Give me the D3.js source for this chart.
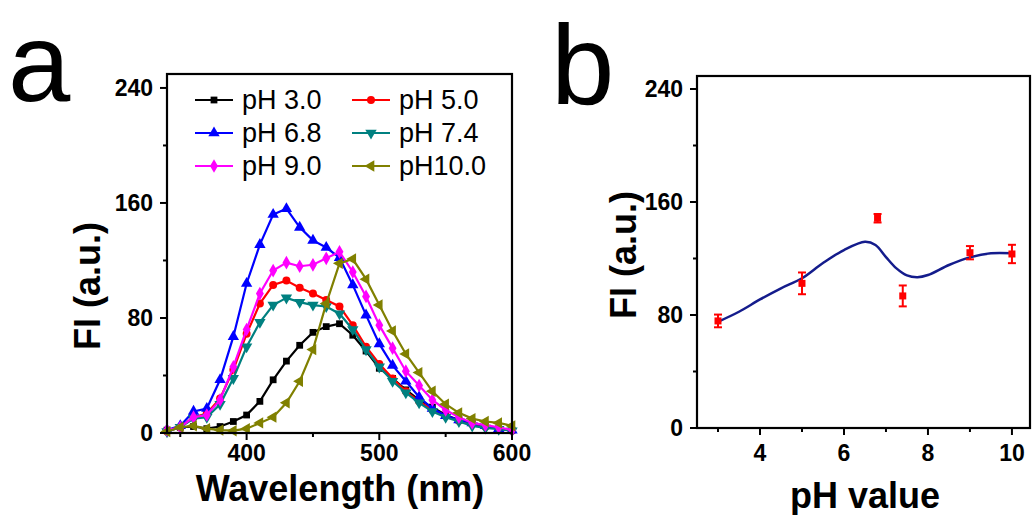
<!DOCTYPE html>
<html>
<head>
<meta charset="utf-8">
<script src="https://cdn.jsdelivr.net/npm/d3@7"></script>
<style>
  body { margin: 0; background: #fff; }
  svg { display: block; font-family: "Liberation Sans", Arial, sans-serif; }
  .tick-label { font-weight: bold; font-size: 23px; }
  .axis-title { font-weight: bold; font-size: 36px; }
</style>
</head>
<body>
<svg id="chart" width="1032" height="515"></svg>
<script>
// panel a: emission spectra, one value every 10 nm
const wavelengths = [340,350,360,370,380,390,400,410,420,430,440,450,460,470,
                     480,490,500,510,520,530,540,550,560,570,580,590,600];
const fiPH30  = [2,4,4.5,3,4.5,8,12.5,22,37,50,61,70,74,76,68,57,45,38,30,23,18,12.5,9,6.7,5,3,2];
const fiPH50  = [1,4,11,13.5,24,44,69,90,103,106,101,97,92.5,88,75,60,48,38,29,22,16,12,8.5,6.3,4.4,3.2,1.6];
const fiPH68  = [2,5,15,17,37,67,104,131,152,156,143,134,129,122,103,82,62,47,36,25,17,12,9,7,5,3,2];
const fiPH74  = [1,4,10,11,20,38,60,77,89,94,91,89,88,83,72,58,46,36,28,21,15,11,8,5,3.5,2.6,1.6];
const fiPH90  = [2,4,11,12.5,23,46,72,97,113,118.5,116,117,121.5,126,112,95,75,59,43,33,23,16,11,7,5.5,4,2];
const fiPH100 = [1,4,5,3,2,1.6,3,7,11,21,36,58,90,118,121,107,89,71,55,42,29,20,14,10,8,7,5];
const seriesNames = ["pH 3.0","pH 5.0","pH 6.8","pH 7.4","pH 9.0","pH10.0"];
const seriesColors = ["#000000","#ff0000","#0000ff","#008080","#ff00ff","#808000"];
const seriesValues = [fiPH30, fiPH50, fiPH68, fiPH74, fiPH90, fiPH100];

// panel b: intensity vs pH with error bars and a fitted curve
const phPoints = [3, 5, 6.8, 7.4, 9, 10];
const phFI     = [75.8, 102.4, 148.5, 93.5, 124.1, 123.2];
const phErr    = [4.5, 7.7, 3, 7.4, 4.7, 6.5];
const fitPH = [3,3.5,4,4.5,5,5.5,6,6.5,6.75,7,7.25,7.5,7.75,8,8.5,9,9.5,10];
const fitFI = [75.2,82.3,91,98.9,106,116.8,126,131.9,129.6,121,113,108,106.7,108.3,115.4,120.8,123.7,123.7];

const yTicks = [0, 80, 160, 240];
const yMinor = [40, 120, 200];

const svg = d3.select("#chart");

const symbolFor = [
    d3.symbol().type(d3.symbolSquare).size(46),
    d3.symbol().type(d3.symbolCircle).size(50),
    d3.symbol().type(d3.symbolTriangle).size(56),
    d3.symbol().type(d3.symbolTriangle).size(56),
    d3.symbol().type(d3.symbolDiamond).size(54),
    d3.symbol().type(d3.symbolTriangle).size(56)
];
const symbolRotate = [0, 0, 0, 180, 0, -90];

function drawFrame(g, x, y){
    const [x0, x1] = x.range();
    const [y0, y1] = y.range();
    g.append("rect")
        .attr("x", x0).attr("y", y1)
        .attr("width", x1 - x0).attr("height", y0 - y1)
        .attr("fill", "none")
        .attr("stroke", "#000")
        .attr("stroke-width", 2.2);
}

function drawTicks(g, x, y, xMajor, xMinorVals, xLabelDy){
    const [x0] = x.range();
    const [y0] = y.range();
    // y ticks, outward
    g.selectAll(".ymaj").data(yTicks).enter().append("line")
        .attr("x1", x0 - 7).attr("x2", x0)
        .attr("y1", d => y(d)).attr("y2", d => y(d))
        .attr("stroke", "#000").attr("stroke-width", 2);
    g.selectAll(".ymin").data(yMinor).enter().append("line")
        .attr("x1", x0 - 4).attr("x2", x0)
        .attr("y1", d => y(d)).attr("y2", d => y(d))
        .attr("stroke", "#000").attr("stroke-width", 2);
    g.selectAll(".ylab").data(yTicks).enter().append("text")
        .attr("class", "tick-label")
        .attr("x", x0 - 14)
        .attr("y", d => y(d) + 8)
        .attr("text-anchor", "end")
        .text(d => d);
    // x ticks, outward
    g.selectAll(".xmaj").data(xMajor).enter().append("line")
        .attr("x1", d => x(d)).attr("x2", d => x(d))
        .attr("y1", y0).attr("y2", y0 + 7)
        .attr("stroke", "#000").attr("stroke-width", 2);
    g.selectAll(".xmin").data(xMinorVals).enter().append("line")
        .attr("x1", d => x(d)).attr("x2", d => x(d))
        .attr("y1", y0).attr("y2", y0 + 4)
        .attr("stroke", "#000").attr("stroke-width", 2);
    g.selectAll(".xlab").data(xMajor).enter().append("text")
        .attr("class", "tick-label")
        .attr("x", d => x(d))
        .attr("y", y0 + xLabelDy)
        .attr("text-anchor", "middle")
        .text(d => d);
}

// ---------- panel a ----------
function makeSpectra(){
    let x = d3.scaleLinear().domain([340, 600]).range([167, 512]);
    let y = d3.scaleLinear().domain([0, 249.7]).range([433, 74]);
    let g = svg.append("g");

    let line = d3.line()
        .x(d => x(d[0]))
        .y(d => y(d[1]));

    seriesValues.forEach(function(vals, i){
        let pts = wavelengths.map((w, j) => [w, vals[j]]);
        g.append("path")
            .attr("d", line(pts))
            .attr("fill", "none")
            .attr("stroke", seriesColors[i])
            .attr("stroke-width", 2.2);
        g.selectAll(".m" + i)
            .data(pts)
            .enter()
            .append("path")
            .attr("d", symbolFor[i])
            .attr("transform", d => "translate(" + x(d[0]) + "," + y(d[1]) + ") rotate(" + symbolRotate[i] + ")")
            .attr("fill", seriesColors[i]);
    });

    drawFrame(g, x, y);
    drawTicks(g, x, y, [400, 500, 600], [350, 450, 550], 28);

    // legend
    seriesNames.forEach(function(name, i){
        let col = i % 2, row = Math.floor(i / 2);
        let lx = col === 0 ? 195 : 352;
        let ly = 100 + row * 33;
        let lg = g.append("g");
        lg.append("line")
            .attr("x1", lx).attr("x2", lx + 38)
            .attr("y1", ly).attr("y2", ly)
            .attr("stroke", seriesColors[i]).attr("stroke-width", 2);
        lg.append("path")
            .attr("d", symbolFor[i])
            .attr("transform", "translate(" + (lx + 19) + "," + ly + ") rotate(" + symbolRotate[i] + ")")
            .attr("fill", seriesColors[i]);
        lg.append("text")
            .attr("x", lx + 47)
            .attr("y", ly + 9)
            .attr("font-size", 27)
            .text(name);
    });

    g.append("text")
        .attr("class", "axis-title")
        .attr("x", 340).attr("y", 501)
        .attr("text-anchor", "middle")
        .text("Wavelength (nm)");
    g.append("text")
        .attr("class", "axis-title")
        .attr("transform", "translate(100,286) rotate(-90)")
        .attr("text-anchor", "middle")
        .attr("font-size", 38)
        .text("FI (a.u.)");
    g.append("text")
        .attr("x", 8).attr("y", 101)
        .attr("font-size", 112)
        .text("a");
}

// ---------- panel b ----------
function makePHPlot(){
    let x = d3.scaleLinear().domain([2.5, 10.43]).range([697, 1030]);
    let y = d3.scaleLinear().domain([0, 249.2]).range([428, 76]);
    let g = svg.append("g");

    let fitLine = d3.line()
        .x((d, i) => x(fitPH[i]))
        .y(d => y(d))
        .curve(d3.curveCatmullRom);
    g.append("path")
        .attr("d", fitLine(fitFI))
        .attr("fill", "none")
        .attr("stroke", "#141c8c")
        .attr("stroke-width", 2.5);

    let pts = phPoints.map((p, i) => ({ph: p, v: phFI[i], e: phErr[i]}));
    let eb = g.selectAll(".err").data(pts).enter().append("g")
        .attr("stroke", "#ff0000").attr("stroke-width", 2);
    eb.append("line")
        .attr("x1", d => x(d.ph)).attr("x2", d => x(d.ph))
        .attr("y1", d => y(d.v - d.e)).attr("y2", d => y(d.v + d.e));
    eb.append("line")
        .attr("x1", d => x(d.ph) - 4).attr("x2", d => x(d.ph) + 4)
        .attr("y1", d => y(d.v - d.e)).attr("y2", d => y(d.v - d.e));
    eb.append("line")
        .attr("x1", d => x(d.ph) - 4).attr("x2", d => x(d.ph) + 4)
        .attr("y1", d => y(d.v + d.e)).attr("y2", d => y(d.v + d.e));
    g.selectAll(".pt").data(pts).enter().append("rect")
        .attr("x", d => x(d.ph) - 3.5)
        .attr("y", d => y(d.v) - 3.5)
        .attr("width", 7).attr("height", 7)
        .attr("fill", "#ff0000");

    drawFrame(g, x, y);
    drawTicks(g, x, y, [4, 6, 8, 10], [3, 5, 7, 9], 33);

    g.append("text")
        .attr("class", "axis-title")
        .attr("x", 865).attr("y", 508)
        .attr("text-anchor", "middle")
        .text("pH value");
    g.append("text")
        .attr("class", "axis-title")
        .attr("transform", "translate(636,255) rotate(-90)")
        .attr("text-anchor", "middle")
        .text("FI (a.u.)");
    g.append("text")
        .attr("x", 551).attr("y", 104)
        .attr("font-size", 114)
        .text("b");
}

makeSpectra();
makePHPlot();
</script>
</body>
</html>
